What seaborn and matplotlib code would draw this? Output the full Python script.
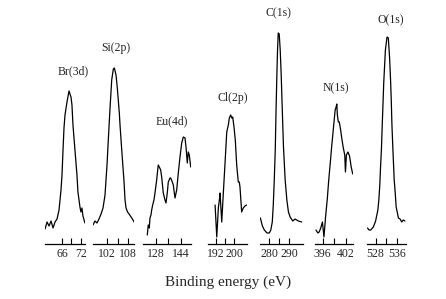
import numpy as np
import pandas as pd
import seaborn as sns
import matplotlib
matplotlib.use("Agg")
import matplotlib.pyplot as plt
from matplotlib.ticker import FixedLocator

# spectra: binding energy (eV) and intensity (a.u.)
br_ev = [60.62, 61.25, 61.89, 62.52, 63.15, 63.78, 64.42, 65.05, 65.68, 66.0, 66.32, 66.63, 66.95,
         67.58, 68.22, 68.85, 69.16, 69.48, 70.11, 70.75, 71.06, 71.70, 72.01, 72.33, 72.65, 73.28]
br_int = [15, 22, 18, 23, 16, 22, 25, 34, 54, 69, 94, 116, 129, 142, 153, 147, 139, 119, 94, 69,
          52, 37, 32, 36, 28, 21]

si_ev = [98.0, 98.57, 99.14, 99.71, 100.29, 100.86, 101.43, 101.71, 102.0, 102.29, 102.86, 103.34,
         103.8, 104.09, 104.57, 104.94, 105.51, 105.71, 106.2, 106.86, 107.14, 107.43, 107.86,
         108.29, 108.86, 109.43, 109.71]
si_int = [19, 23, 21, 25, 30, 36, 49, 64, 79, 99, 136, 164, 175, 176, 169, 156, 131, 119, 94, 62,
          44, 36, 32, 30, 27, 24, 22]

eu_ev = [122.43, 123.07, 123.71, 124.16, 124.8, 125.25, 125.89, 126.72, 127.36, 128.45, 129.09,
         129.47, 130.11, 131.01, 131.65, 132.67, 133.76, 134.4, 135.23, 135.87, 136.96, 137.41,
         138.43, 139.07, 140.16, 141.25, 142.27, 143.36, 144.45, 145.47, 146.56, 147.2, 148.03,
         148.67, 149.31, 150.21]
eu_int = [9, 19, 16, 26, 29, 34, 39, 44, 51, 64, 74, 79, 77, 74, 67, 51, 44, 41, 51, 62, 66, 66,
          62, 59, 46, 54, 71, 87, 101, 107, 106, 97, 81, 92, 89, 77]

cl_ev = [191.56, 192.31, 193.02, 193.47, 193.78, 194.53, 195.24, 196.0, 196.76, 197.47, 197.91,
         198.53, 198.98, 199.42, 200.0, 200.58, 201.2, 201.91, 202.36, 202.67, 203.42, 204.13,
         204.89, 205.64]
cl_int = [39, 7, 36, 44, 51, 22, 51, 81, 112, 119, 126, 129, 126, 127, 117, 104, 79, 62, 62, 57,
          32, 36, 38, 39]

c_ev = [275.5, 276.5, 277.5, 278.85, 280.0, 280.75, 281.5, 282.0, 282.5, 283.0, 283.35, 283.75,
        284.15, 284.5, 285.0, 285.5, 286.0, 286.5, 287.15, 288.0, 288.85, 289.65, 290.5, 291.85,
        293.0, 294.65, 296.35]
c_int = [26, 18, 14, 11, 11, 14, 22, 39, 64, 94, 129, 164, 194, 211, 210, 194, 169, 137, 97, 64,
         44, 32, 27, 23, 25, 23, 22]

n_ev = [394.25, 394.75, 395.08, 395.5, 395.93, 396.33, 396.75, 397.18, 397.58, 398.0, 398.38,
        398.68, 399.0, 399.25, 399.5, 399.68, 399.83, 400.08, 400.33, 400.68, 400.93, 401.33,
        401.75, 401.93, 402.18, 402.58, 403.0, 403.43, 403.83]
n_int = [14, 11, 12, 16, 22, 7, 27, 44, 64, 82, 99, 111, 124, 134, 137, 140, 129, 122, 122, 114,
         107, 97, 89, 72, 89, 92, 88, 77, 70]

o_ev = [524.98, 525.56, 526.18, 527.16, 528.0, 528.84, 529.2, 529.56, 529.82, 530.18, 530.44,
        531.02, 531.64, 532.25, 532.73, 533.2, 533.56, 533.82, 534.07, 534.44, 534.91, 535.27,
        535.64, 536.11, 536.47, 537.09, 537.71, 538.29, 538.91]
o_int = [16, 14, 14, 17, 23, 34, 44, 59, 76, 96, 117, 161, 194, 207, 206, 186, 164, 144, 119, 94,
         64, 52, 37, 31, 26, 25, 22, 24, 23]

peak_names = ["Br(3d)", "Si(2p)", "Eu(4d)", "Cl(2p)", "C(1s)", "N(1s)", "O(1s)"]
tick_labels = [[66, 72], [102, 108], [128, 144], [192, 200], [280, 290], [396, 402], [528, 536]]
minor_ticks = [[69], [105], [136], [196], [285], [399], [532]]

spectra = [(br_ev, br_int), (si_ev, si_int), (eu_ev, eu_int), (cl_ev, cl_int),
           (c_ev, c_int), (n_ev, n_int), (o_ev, o_int)]

# layout in pixels (left, right) of each broken axis piece and its x range
panel_px = [(45, 85), (93, 134), (143, 191), (208, 247), (260, 303), (315, 353), (367, 406)]
panel_xlim = [(60.6, 73.3), (98.0, 109.7), (119.7, 150.4), (188.4, 205.8),
              (275.3, 297.0), (394.0, 403.9), (524.8, 539.3)]
label_px = [(72.7, 71), (115.7, 48), (171.7, 121), (232.3, 98), (278.3, 13), (335.7, 88), (390.7, 20)]

sns.set_style("white")
plt.rcParams['font.family'] = ['Liberation Serif', 'DejaVu Serif']

W, H = 446, 299
fig = plt.figure(figsize=(W / 100, H / 100), dpi=100)
base = 244

for i, (ev, inten) in enumerate(spectra):
    l, r = panel_px[i]
    ax = fig.add_axes([l / W, 1 - base / H, (r - l) / W, base / H])
    df = pd.DataFrame({"ev": ev, "intensity": inten})
    sns.lineplot(data=df, x="ev", y="intensity", ax=ax, color="black", linewidth=0.9,
                 sort=False, estimator=None)
    ax.set_xlim(*panel_xlim[i])
    ax.set_ylim(0, base)
    for s in ["left", "right", "top"]:
        ax.spines[s].set_visible(False)
    ax.spines["bottom"].set_linewidth(0.9)
    ax.spines["bottom"].set_color("black")
    ax.set_yticks([])
    ax.set_xticks(tick_labels[i])
    ax.set_xticklabels([str(t) for t in tick_labels[i]], fontsize=8.5)
    ax.xaxis.set_minor_locator(FixedLocator(minor_ticks[i]))
    ax.tick_params(axis="x", which="both", direction="in", length=4, width=0.8,
                   color="black", pad=3, bottom=True)
    ax.set_xlabel("")
    ax.set_ylabel("")
    ax.patch.set_alpha(0)
    lx, ly = label_px[i]
    fig.text(lx / W, 1 - ly / H, peak_names[i], ha="center", va="center", fontsize=8.5)

fig.text(228 / W, 1 - 282 / H, "Binding energy (eV)", ha="center", va="center", fontsize=11)

fig.savefig("out.png", dpi=100, facecolor="white")
